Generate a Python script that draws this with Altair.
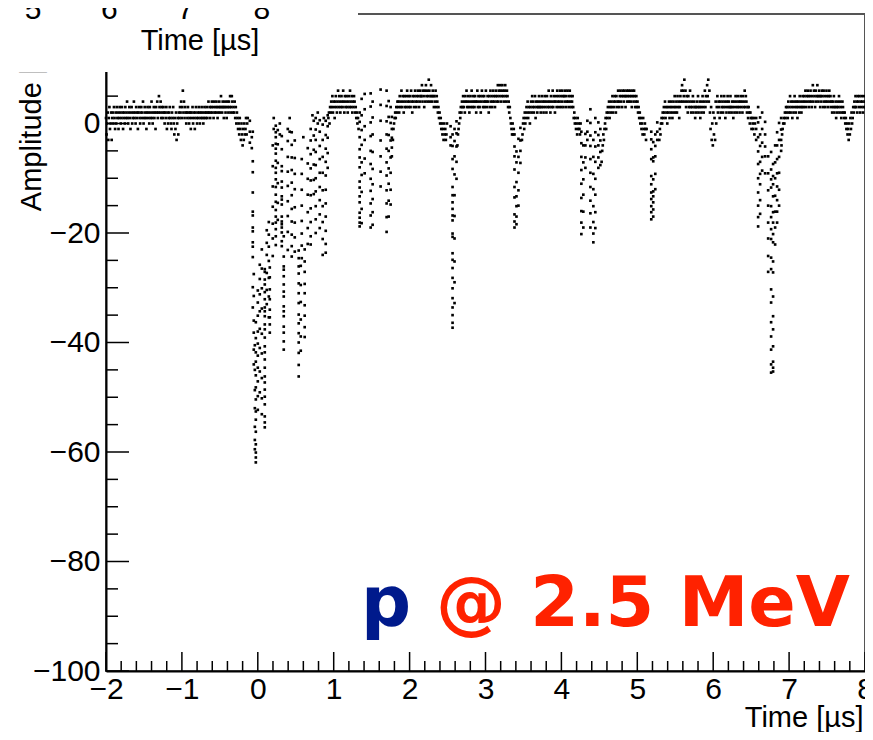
import altair as alt
import pandas as pd

# ---------------- data ----------------
STEP = 0.0075  # sample spacing of the baseline traces (µs)

seg1 = [1,-2,0,2,-3,1,3,-1,0,2,-3,1,2,0,3,1,-1,2,0,3,1,2,-1,1,3,
        2,0,1,3,2,-1,1,2,0,3,1,2,4,1,0,2,3,1,-1,2,3,0,1,2,4,
        1,2,0,3,1,2,-1,2,3,1,0,2,3,1,2,4,0,1,3,2,1,-1,2,3,1,
        2,0,3,1,2,4,1,0,2,3,1,2,-1,3,2,4,1,2,5,3,2,4,1,3,2,
        1,3,2,0,2,1,3,-1,2,0,1,2,3,1,0,-1,2,1,3,0,-2,1,-1,2,-3,
        0,1,-2,2,1,3,2,4,1,3,6,2,4,1,3,2,0,2,1,3,2,0,1,2,-1,
        2,1,3,0,2,1,-1,2,3,1,0,2,1,3,2,0,1,2,3,1,2,0,1,3,2,
        1,2,3,1,2,4,2,3,1,2,3,4,2,3,1,4,2,3,2,4,3,1,2,3,4,
        2,3,5,3,2,4,3,1,3,4,2,3,1,4,3,2,4,3,5,2,3,5,4,2,3,
        2,4,1,3,0,2,1,-1,0,-2,1,-1,-3,0,-2,-4,-1,-3,0,-2,-1,1,-2,0,1]
seg2 = [1,2,0,3,2,4,3,5,2,4,3,1,4,5,3,2,4,6,3,5,4,2,3,5,4,3,6,4,2,5,
        3,4,5,3,2,4,5,3,6,4,3,5,2,4,3,5,4,2,3,1,2,0,1,-1]
seg3 = [-3,-1,0,1,2,1,3,2,4,3,
        4,2,5,3,4,6,3,5,4,2,5,3,4,5,3,6,4,5,3,4,
        5,3,6,4,2,5,4,3,5,6,4,3,5,4,6,5,3,4,6,5,
        5,7,4,6,5,3,6,4,7,5,6,4,5,8,6,4,5,7,5,4,
        6,5,3,5,4,6,3,5,4,2,3,1,2,0,1,-1,0,-2,-1,-3,0,-2,-1,-3,-2,0]
seg4 = [-4,-2,-1,0,2,1,3,2,4,3,
        5,3,4,2,5,4,6,3,4,5,3,2,4,5,3,6,4,3,5,4,
        3,5,4,2,4,6,3,5,4,3,5,2,4,6,5,3,4,5,3,4,
        6,4,3,5,4,2,5,3,6,4,5,3,4,6,5,4,3,5,6,4,
        5,7,4,6,5,7,6,4,5,7,6,5,4,6,7,5,4,6,5,3,
        4,2,3,1,0,-1,-2,0,-2,-1]
seg5 = [-3,-2,0,1,-1,2,0,1,3,2,
        4,1,3,2,0,3,4,2,5,3,4,2,3,5,1,4,3,2,4,3,
        5,3,4,2,3,5,4,3,2,4,5,3,4,2,5,3,4,6,3,4,
        2,5,3,4,6,3,5,4,2,4,5,3,6,4,5,3,4,6,5,3,
        4,6,5,3,5,4,6,5,3,4,6,4,5,3,6,4,5,3,4,5,
        3,1,2,0,1,-1,0,-2,1,-1,0,-1,-2,0]
seg6 = [-7,-5,-4,-2,-3,-1,0,1,-1,2,
        1,3,2,4,1,3,2,4,3,5,2,4,3,5,4,2,5,3,4,6,
        4,3,5,6,4,5,3,6,5,4,6,5,3,5,6,4,5,6,4,5,
        6,4,5,3,6,5,4,6,5,3,4,5,3,4,2,3,1,2,0,1,
        -1,0,-2,1,-1,-2,0,-1,-3,-1]
seg7 = [-3,-1,-2,0,1,0,2,1,3,2,
        4,1,3,2,0,3,2,4,1,3,2,4,3,1,2,4,3,5,2,3,
        4,2,5,3,4,1,3,5,4,6,7,4,6,5,8,4,6,3,5,4,
        2,5,3,4,6,3,2,4,3,5,2,4,3,1,3,2,4,3,5,2,
        3,4,1,3,2,4,5,3,2,4,6,3,5,4,7,5,8,4,6,2,
        -1,3,-3,0,-4,2,-2,1,-3,4,0,3,5,2,4,3,1,4,2,5,
        3,4,2,3,5,4,1,3,2,4,5,3,4,2,3,5,3,2,4,3,
        1,4,2,3,5,4,2,3,5,4,3,2,4,5,3,4,2,5,3,4,
        6,3,5,4,2,3,1,3,2,0,2,1,-1,1,0,-1,1,-2,0]
seg8 = [-4,-2,-1,0,1,0,2,1,3,2,
        3,1,4,2,3,5,2,4,3,1,4,2,3,5,4,2,3,4,1,3,
        4,2,5,3,4,2,3,5,4,3,5,4,6,3,5,4,6,5,3,4,
        5,6,4,3,5,7,4,6,5,3,6,4,5,7,5,4,6,5,3,5,
        4,6,5,3,6,4,5,3,4,6,5,4,3,5,6,4,5,3,4,2,
        4,3,5,2,3,4,1,3,2,4,3,5,2,4,3,1,2,4,3,2,
        1,2,0,1,-1,0,-2,-1,-3,0,-2,1,-1,2,0,1,3,2,4,3,
        5,3,4,2,5,4,3,5,2,4,3,5,4,2,3,5,4,3]

base_starts = [-2.0, 0.93, 1.78, 2.63, 3.48, 4.53, 5.29, 6.90]
base_values = [seg1, seg2, seg3, seg4, seg5, seg6, seg7, seg8]

# fast pulses: (time in µs, amplitudes of the dots in that column)
pulse_cols = [
    (-0.105, [0.5, -1.5, -3.5]),
    (-0.079, [-2.5, -4.5]),
    (-0.066, [-1.5, -6.9, -8.9, -12.6, -16.1, -16.8, -19.0, -19.7, -21.7, -22.5, -24.4, -29.9, -33.6]),
    (-0.053, [-27.5, -31.5, -36.0, -38.2, -41.3, -44.0]),
    (-0.039, [-40.5, -45.0, -48.7, -52.0, -55.4, -57.8, -59.5]),
    (-0.026, [-36.3, -39.2, -41.8, -43.5, -46.0, -48.2, -50.4, -52.6, -54.1, -56.3, -58.6, -60.1, -61.0, -61.9]),
    (0.000, [-30.5, -32.7, -35.1, -38.0, -40.2, -42.4, -44.6, -47.1, -49.8, -52.3]),
    (0.026, [-25.8, -28.4, -31.2, -34.3, -37.5, -41.0, -45.3, -49.1]),
    (0.053, [-23.0, -26.5, -30.1, -33.8, -38.4, -42.0, -46.5, -50.2, -53.1]),
    (0.092, [-26.6, -27.1, -28.5, -29.4, -30.8, -32.1, -33.6, -34.3, -35.2, -36.7, -37.6, -39.1, -40.7,
             -41.8, -43.1, -44.6, -46.2, -47.3, -48.6, -49.9, -51.3, -53.5, -54.6, -55.5]),
    (0.118, [-19.5, -21.8, -24.0, -27.3, -30.4, -33.0]),
    (0.145, [-18.0, -20.3, -22.5, -25.1, -28.2, -31.6, -35.4]),
    (0.158, [-26.3, -28.1, -30.3, -32.1, -34.0, -35.4, -36.7, -38.2]),
    (0.197, [-4.0, -7.8, -11.5, -15.2, -18.3, -21.0, -24.2]),
    (0.210, [1.0, -1.0]),
    (0.237, [-0.4, -1.6, -2.5, -3.7, -4.6, -5.5, -6.8, -8.1, -9.0, -10.2, -11.6, -13.0, -14.3, -15.8,
             -17.0, -18.1, -19.3, -20.6, -22.2]),
    (0.263, [-1.2, -3.8, -7.2, -10.9, -14.5, -17.6]),
    (0.290, [0.0, -2.0]),
    (0.316, [-2.3, -4.7, -7.8, -8.7, -10.6, -11.7, -13.3, -13.9, -14.8, -17.0, -17.9, -18.4, -19.0,
             -19.9, -21.5, -22.4]),
    (0.342, [-20.6, -24.3, -26.1, -26.7, -27.9, -29.4, -30.7, -31.6, -33.4, -34.3, -35.2, -37.1,
             -38.2, -39.8, -41.3]),
    (0.395, [-1.0, -3.2, -6.1, -8.8, -11.4, -14.2, -16.9, -19.8, -23.1]),
    (0.420, [1.0, -1.5]),
    (0.447, [-1.6, -3.9, -6.2, -8.5, -10.8, -13.1, -15.6, -17.9, -20.3, -22.4, -24.3]),
    (0.487, [-3.1, -6.3, -9.2, -12.0, -15.3, -18.1, -20.8, -23.4]),
    (0.539, [-23.2, -24.6, -26.1, -27.4, -29.2, -31.0, -32.8, -34.9, -36.5, -38.3, -40.0, -41.9,
             -44.1, -46.2]),
    (0.566, [-26.0, -29.5, -32.6, -35.8, -38.9, -41.5]),
    (0.579, [-6.5, -9.2, -12.1, -15.0, -17.8, -20.1, -22.3, -24.6]),
    (0.600, [-2.5]),
    (0.618, [-23.0, -25.2, -27.1, -29.3, -31.0, -33.2, -35.1, -37.2, -39.0]),
    (0.658, [-4.5, -7.3, -10.1, -13.0, -16.2, -19.1, -22.0]),
    (0.697, [-1.0, -3.1, -5.6, -8.2, -10.4, -13.1, -15.5, -18.0, -20.6, -22.1]),
    (0.720, [1.5]),
    (0.737, [0.5, -2.2, -4.8, -7.5, -10.3, -12.9]),
    (0.763, [1.0, -1.1, -3.0, -5.2, -7.6, -10.0, -12.4, -15.1, -17.5, -20.0]),
    (0.790, [2.0, 0.0]),
    (0.816, [0.6, -1.5, -4.1, -6.5, -9.0, -11.6, -14.0, -16.6, -19.1]),
    (0.855, [-0.2, -3.0, -6.1, -9.0, -12.2, -15.1, -18.0, -21.1, -24.0]),
    (0.870, [1.0]),
    (0.895, [0.5, -2.1, -4.6, -7.0, -9.5, -12.1, -14.6, -17.0, -19.6, -22.0, -23.6]),
    (0.921, [1.5, -0.5, -2.6, -5.4, -8.1]),
    (1.342, [2.0, 0.3, -2.5, -4.7, -6.2, -8.0, -10.6, -11.7, -13.3, -14.4, -16.3, -17.2, -18.1, -18.8]),
    (1.368, [4.5, 1.5, -1.2, -3.9, -7.1, -9.4, -12.5, -15.6, -18.2]),
    (1.408, [5.4, 2.6, -0.5, -3.0, -6.4, -9.1]),
    (1.487, [5.5, 3.1, 0.2, -2.3, -5.0, -7.4, -10.1, -12.3, -14.6, -16.8, -19.0]),
    (1.513, [4.0, 1.1, -2.0, -5.2, -8.3, -11.1, -13.8, -16.2, -18.5]),
    (1.618, [6.2, 3.4, 0.5, -3.1, -6.0, -8.8, -11.5]),
    (1.697, [6.0, 3.2, 0.4, -2.0, -4.6, -7.1, -9.5, -12.2, -14.6, -17.1, -19.8]),
    (1.724, [4.1, 1.2, -2.1, -5.0, -8.2, -11.0, -14.1, -17.0]),
    (1.750, [3.0, 0.1, -3.1, -6.2, -9.0, -12.1, -14.8]),
    (1.766, [1.2, -1.0, -2.6, -4.4, -6.0]),
    (2.540, [-0.5, -2.5, -4.0]),
    (2.566, [-2.0, -4.1, -6.5, -8.3, -11.6, -13.1, -14.4, -15.6, -16.8, -17.7, -20.1, -20.7, -23.7,
             -24.9, -26.4, -28.2, -30.1, -31.9, -33.6, -35.0, -36.4, -37.3]),
    (2.592, [-1.0, -3.2, -6.0, -9.3, -13.1, -16.9, -21.0, -25.2, -29.0, -32.8]),
    (2.618, [0.4, -1.8, -4.2, -7.0, -10.1]),
    (3.382, [-2.0, -4.2, -6.0, -8.4, -11.6, -13.5, -16.6, -17.9, -19.0]),
    (3.408, [-5.1, -7.1, -10.7, -13.3, -15.1, -17.0, -18.4]),
    (3.434, [-2.8, -6.1, -9.0, -12.2, -15.0]),
    (3.460, [-0.8, -3.1, -5.0, -7.2]),
    (4.263, [-1.5, -3.6, -6.1, -8.5, -11.0, -13.6, -16.0, -18.1, -20.2]),
    (4.289, [-4.0, -7.1, -10.2, -13.0, -16.1, -19.0]),
    (4.316, [-1.9, -4.0, -6.2, -8.1]),
    (4.342, [0.5, -1.5, -3.0]),
    (4.382, [2.6, 0.1, -2.2, -4.1, -6.5, -9.0, -11.6, -14.1, -16.4, -19.0]),
    (4.421, [-3.0, -6.1, -9.2, -12.0, -15.1, -18.0, -20.1, -21.7]),
    (4.447, [1.0, -1.6, -4.2, -7.0, -10.1, -13.0, -16.2, -19.1]),
    (4.487, [0.2, -2.1, -4.0, -6.2, -8.1]),
    (4.513, [-1.0, -3.1, -5.2, -7.6]),
    (5.184, [-1.5, -2.9, -4.7, -6.5, -9.6, -11.1, -12.6, -13.8, -15.1, -16.2, -17.5]),
    (5.210, [-3.4, -6.2, -6.9, -10.2, -12.4, -13.3, -14.4, -15.7, -17.0]),
    (5.237, [-2.0, -4.1, -6.0, -9.2, -12.0]),
    (5.263, [0.2, -1.5, -3.0]),
    (6.566, [1.0, -1.0, -3.0]),
    (6.592, [3.0, 0.2, -2.5, -5.1, -7.4, -10.0, -12.6, -15.0, -17.1, -18.8]),
    (6.618, [1.1, -2.0, -4.1, -7.0, -9.2, -11.1, -14.0, -16.5]),
    (6.645, [2.0, -1.0, -3.5, -6.1, -8.6]),
    (6.684, [0.3, -2.0, -4.2, -6.0, -9.1]),
    (6.724, [-6.0, -9.1, -12.2, -15.0, -18.1, -21.0, -24.2, -27.1]),
    (6.763, [-5.2, -8.4, -10.2, -11.7, -15.1, -17.1, -19.3, -21.1, -24.5, -26.6, -30.3, -32.7, -36.3,
             -38.9, -41.3, -44.0, -45.5]),
    (6.789, [-7.4, -9.6, -11.1, -13.3, -16.2, -18.1, -20.2, -21.7, -25.2, -27.2, -31.6, -35.2, -37.6,
             -40.7, -43.5, -44.6, -45.3]),
    (6.816, [-4.0, -7.1, -10.0, -13.2, -16.1, -19.0, -22.1]),
    (6.842, [-1.6, -4.0, -6.5, -9.1, -11.5, -14.0, -16.1, -18.1]),
    (6.868, [0.1, -3.0, -6.1, -9.0, -12.1, -15.0]),
    (6.895, [1.0, -1.1, -3.0, -5.0]),
]

x_major = [-2, -1, 0, 1, 2, 3, 4, 5, 6, 7, 8]
x_minor = [round(a + b / 5, 1) for a in range(-2, 8) for b in range(1, 5)]
y_major = [-100, -80, -60, -40, -20, 0, 20]
y_labels = [-100, -80, -60, -40, -20, 0]
y_minor = [v for v in range(-95, 20, 5) if v % 20 != 0]
ghost_labels = ["5", "6", "7", "8"]

# ---------------- build the table ----------------
ts, vs = [], []
for t0, vals in zip(base_starts, base_values):
    for i, v in enumerate(vals):
        ts.append(round(t0 + i * STEP, 5))
        vs.append(v)
for t, vals in pulse_cols:
    for v in vals:
        ts.append(t)
        vs.append(v)
df = pd.DataFrame({"t": ts, "v": vs})

FONT = "Liberation Sans"
W, H = 759, 657

x_enc = alt.X(
    "t:Q",
    scale=alt.Scale(domain=[-2, 8], nice=False, zero=False),
    axis=alt.Axis(
        values=x_major, format="d", ticks=False, tickSize=0, grid=False,
        domainColor="black", domainWidth=2,
        labelFont=FONT, labelFontSize=30, labelColor="black", labelPadding=3,
        labelBaseline="top", labelFlush=False, labelOverlap=False, labelBound=False,
        title="Time [µs]", titleFont=FONT, titleFontSize=29, titleFontWeight="normal",
        titleColor="black", titleAlign="right", titleBaseline="alphabetic",
        titleX=757, titleY=55,
    ),
)
y_enc = alt.Y(
    "v:Q",
    scale=alt.Scale(domain=[-100, 20], nice=False, zero=False),
    axis=alt.Axis(
        values=y_labels, format="d", ticks=False, tickSize=0, grid=False,
        domainColor="black", domainWidth=2,
        labelFont=FONT, labelFontSize=30, labelColor="black", labelPadding=6,
        labelFlush=False, labelOverlap=False, labelBound=False,
        title="Amplitude [mV]", titleFont=FONT, titleFontSize=29, titleFontWeight="normal",
        titleColor="black", titleAngle=270, titleAlign="right", titleBaseline="alphabetic",
        titleX=-66, titleY=0,
    ),
)

points = alt.Chart(df).mark_square(size=7, color="black", opacity=1).encode(x=x_enc, y=y_enc)

xt_major = alt.Chart(pd.DataFrame({"t": x_major})).mark_rule(color="black", strokeWidth=1.5).encode(
    x=x_enc, y=alt.value(H), y2=alt.value(H - 19))
xt_minor = alt.Chart(pd.DataFrame({"t": x_minor})).mark_rule(color="black", strokeWidth=1.5).encode(
    x=x_enc, y=alt.value(H), y2=alt.value(H - 10))
yt_major = alt.Chart(pd.DataFrame({"v": y_major})).mark_rule(color="black", strokeWidth=1.5).encode(
    y=y_enc, x=alt.value(0), x2=alt.value(23))
yt_minor = alt.Chart(pd.DataFrame({"v": y_minor})).mark_rule(color="black", strokeWidth=1.5).encode(
    y=y_enc, x=alt.value(0), x2=alt.value(12))

one = pd.DataFrame({"a": [0]})
label_p = alt.Chart(one).mark_text(
    text="p", font="DejaVu Sans", fontSize=70, fontWeight="bold", color="#001a8c",
    align="left", baseline="alphabetic").encode(x=alt.value(255), y=alt.value(612))
label_e = alt.Chart(one).mark_text(
    text="@ 2.5 MeV", font="DejaVu Sans", fontSize=70, fontWeight="bold", color="#ff2200",
    align="right", baseline="alphabetic").encode(x=alt.value(744), y=alt.value(612))

# the panel above overlaps this one in the top-left corner
cover = alt.Chart(one).mark_rect(color="white").encode(
    x=alt.value(-106), x2=alt.value(252), y=alt.value(-14), y2=alt.value(58))
ghost_layers = []
for i, lab in enumerate(ghost_labels):
    ghost_layers.append(alt.Chart(one).mark_text(
        text=lab, font=FONT, fontSize=30, color="black", align="center",
        baseline="alphabetic").encode(x=alt.value(-73 + 76.3 * i), y=alt.value(4.5)))
ghost_title = alt.Chart(one).mark_text(
    text="Time [µs]", font=FONT, fontSize=29, color="black", align="center",
    baseline="alphabetic").encode(x=alt.value(94), y=alt.value(36))

chart = alt.layer(
    points, xt_major, xt_minor, yt_major, yt_minor, label_p, label_e,
    cover, *ghost_layers, ghost_title,
).properties(
    width=W, height=H,
    autosize=alt.AutoSizeParams(type="none"),
    padding={"left": 98, "top": 6, "right": 0, "bottom": 61},
).configure_view(stroke="#555555", strokeWidth=2)

chart.save("out.html", embed_options={"renderer": "svg", "actions": False})
